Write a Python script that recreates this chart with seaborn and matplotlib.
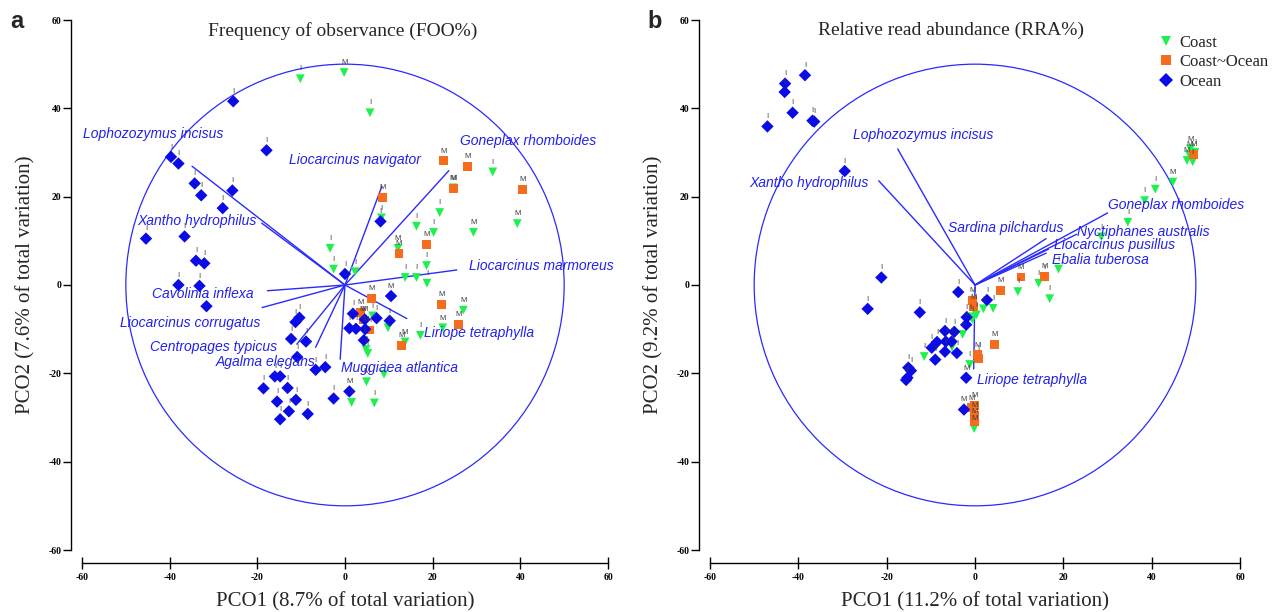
import pandas as pd
import matplotlib
matplotlib.use('Agg')
import matplotlib.pyplot as plt
import seaborn as sns
from matplotlib.patches import Circle

groups = ['Coast', 'Coast~Ocean', 'Ocean']
palette = {'Coast': '#1ef04e', 'Coast~Ocean': '#f46c1c', 'Ocean': '#0b0be6'}
markers = {'Coast': 'v', 'Coast~Ocean': 's', 'Ocean': 'D'}

# ---- panel a: frequency of observance ----
foo_coast_x = [-10.2, -0.2, 5.7, 33.7, 39.3, 29.3, 21.6, 16.3, 20.2, 12.1, 18.6, 13.7, 16.3, 18.7,
               -3.4, -2.6, 2.3, 8.3, 24.6, 6.3, 27.0, 22.3, 17.2, 13.7, 9.8, 4.8, 5.2, 4.9, 8.9, 1.5, 6.7]
foo_coast_y = [46.7, 48.1, 39.0, 25.6, 13.9, 11.9, 16.4, 13.3, 11.9, 8.3, 4.4, 1.7, 1.7, 0.4,
               8.3, 3.6, 3.0, 15.2, 22.0, -7.0, -5.7, -9.7, -11.4, -12.9, -9.7, -14.6, -15.5, -21.9, -20.2, -26.6, -26.7]
foo_coast_site = ['I', 'M', 'I', 'I', 'M', 'M', 'I', 'I', 'I', 'M', 'I', 'I', 'I', 'I',
                  'I', 'I', 'I', 'I', 'M', 'I', 'M', 'M', 'I', 'M', 'I', 'I', 'I', 'M', 'I', 'I', 'I']

foo_mixed_x = [22.5, 28.0, 24.8, 40.5, 8.5, 18.6, 12.3, 6.1, 22.1, 25.9, 12.9, 4.1, 5.7, 3.6]
foo_mixed_y = [28.1, 26.9, 21.8, 21.6, 19.8, 9.2, 7.2, -3.1, -4.4, -9.0, -13.7, -7.8, -10.2, -6.2]
foo_mixed_site = ['M', 'M', 'M', 'M', 'M', 'M', 'M', 'M', 'M', 'M', 'M', 'M', 'I', 'M']

foo_ocean_x = [-25.5, -17.9, -39.7, -38.0, -34.3, -32.8, -25.7, -27.9, -45.4, -36.6, -34.0, -32.1, -38.0, -33.2,
               -31.6, 8.1, 0.0, 10.5, 1.8, 4.5, 7.2, 10.2, 1.0, 2.5, 4.6, 4.3, -10.4, -11.3, -12.3, -8.9,
               -10.9, -6.7, -4.5, -16.0, -14.8, -18.6, -13.1, -11.2, -15.5, -2.6, 1.0, -12.8, -8.5, -14.8]
foo_ocean_y = [41.6, 30.5, 29.0, 27.5, 23.0, 20.3, 21.4, 17.4, 10.5, 11.0, 5.5, 4.9, 0.0, -0.2,
               -4.8, 14.4, 2.5, -2.5, -6.5, -7.8, -7.5, -8.1, -9.8, -9.9, -10.0, -12.5, -7.4, -8.4, -12.2, -12.8,
               -16.3, -19.2, -18.6, -20.7, -20.7, -23.4, -23.3, -26.0, -26.4, -25.7, -24.1, -28.6, -29.2, -30.4]
foo_ocean_site = ['I'] * 17 + ['M', 'I', 'M', 'I', 'I', 'I', 'I', 'M'] + ['I'] * 15 + ['M', 'I', 'I', 'I']

foo_species = ['Lophozozymus incisus', 'Xantho hydrophilus', 'Liocarcinus navigator', 'Goneplax rhomboides',
               'Liocarcinus marmoreus', 'Cavolinia inflexa', 'Liocarcinus corrugatus', 'Centropages typicus',
               'Agalma elegans', 'Muggiaea atlantica', 'Liriope tetraphylla']
foo_vec_x = [-34.9, -19.0, 8.4, 23.7, 25.5, -17.7, -18.9, -11.0, -6.7, -1.1, 14.1]
foo_vec_y = [26.9, 14.0, 22.3, 25.9, 3.4, -1.3, -5.1, -13.4, -14.1, -16.8, -7.6]
foo_lab_x = [-59.7, -47.5, -12.7, 26.3, 28.4, -44.0, -51.3, -44.4, -29.5, -0.8, 18.1]
foo_lab_y = [34.2, 14.5, 28.3, 32.7, 4.2, -2.0, -8.6, -14.0, -17.4, -18.7, -10.9]

# ---- panel b: relative read abundance ----
rra_coast_x = [48.0, 49.3, 48.5, 49.8, 48.8, 44.8, 40.8, 38.4, 34.6, 28.6, 18.9, 15.7, 14.4, 16.9,
               9.7, 4.1, 1.9, 0.3, -1.1, -0.6, -2.8, -5.2, -11.5, -1.2, -0.2]
rra_coast_y = [28.2, 27.9, 29.5, 30.0, 30.8, 23.3, 21.7, 19.1, 14.2, 10.9, 3.6, 1.7, 0.4, -3.1,
               -1.5, -5.3, -5.4, -6.8, -7.2, -7.8, -11.2, -14.1, -16.2, -18.0, -32.5]
rra_coast_site = ['M', 'I', 'M', 'I', 'M', 'M', 'I', 'I', 'I', 'I', 'I', 'I', 'I', 'I',
                  'I', 'I', 'I', 'I', 'I', 'I', 'I', 'I', 'I', 'I', 'M']

rra_mixed_x = [10.4, 5.8, 15.7, 49.4, 4.4, 0.6, 0.8, -0.8, -0.2, -0.1, -0.2, -0.5, -0.3]
rra_mixed_y = [1.8, -1.2, 2.0, 29.6, -13.4, -15.8, -16.6, -27.8, -27.2, -30.9, -29.6, -3.5, -5.0]
rra_mixed_site = ['M', 'M', 'M', 'M', 'M', 'M', 'I', 'M', 'M', 'M', 'M', 'M', 'M']

rra_ocean_x = [-47.0, -43.0, -43.1, -38.5, -41.3, -36.4, -36.8, -29.5, -21.2, -24.3, -12.5, -3.8, 2.7, -1.9,
               -2.0, -6.8, -4.7, -8.6, -6.6, -5.3, -9.8, -6.8, -4.1, -9.0, -15.1, -14.5, -15.6, -15.3, -2.0, -2.5]
rra_ocean_y = [35.9, 45.6, 43.7, 47.5, 39.0, 37.0, 37.2, 25.8, 1.7, -5.4, -6.2, -1.6, -3.4, -7.3,
               -9.0, -10.4, -10.6, -12.9, -12.8, -12.8, -14.2, -15.1, -15.4, -16.9, -18.7, -19.4, -21.5, -21.0, -21.0, -28.2]
rra_ocean_site = ['I'] * 28 + ['M', 'M']

rra_species = ['Lophozozymus incisus', 'Xantho hydrophilus', 'Sardina pilchardus', 'Goneplax rhomboides',
               'Nyctiphanes australis', 'Liocarcinus pusillus', 'Ebalia tuberosa', 'Liriope tetraphylla']
rra_vec_x = [-17.5, -21.8, 16.1, 30.0, 23.0, 16.6, 16.1, -0.3]
rra_vec_y = [30.8, 23.6, 10.5, 16.3, 11.5, 8.1, 7.2, -19.0]
rra_lab_x = [-27.7, -51.0, -6.1, 30.0, 23.2, 17.9, 17.5, 0.4]
rra_lab_y = [34.0, 23.0, 13.0, 18.2, 12.1, 9.0, 5.7, -21.4]


def make_df(cx, cy, cs, mx, my, ms, ox, oy, os_):
    parts = []
    for g, x, y, s in zip(groups, [cx, mx, ox], [cy, my, oy], [cs, ms, os_]):
        parts.append(pd.DataFrame({'PCO1': x, 'PCO2': y, 'site': s, 'group': g}))
    return pd.concat(parts, ignore_index=True)


foo = make_df(foo_coast_x, foo_coast_y, foo_coast_site, foo_mixed_x, foo_mixed_y, foo_mixed_site,
              foo_ocean_x, foo_ocean_y, foo_ocean_site)
rra = make_df(rra_coast_x, rra_coast_y, rra_coast_site, rra_mixed_x, rra_mixed_y, rra_mixed_site,
              rra_ocean_x, rra_ocean_y, rra_ocean_site)

sns.set_theme(style='ticks')
plt.rcParams['font.family'] = ['Liberation Serif', 'DejaVu Serif']
plt.rcParams['axes.unicode_minus'] = False

fig = plt.figure(figsize=(12.76, 6.12), dpi=100)
ax_a = fig.add_axes([82 / 1276, 62 / 612, 526 / 1276, 530 / 612])
ax_b = fig.add_axes([710 / 1276, 62 / 612, 530 / 1276, 530 / 612])

line_blue = '#2a2aff'
text_blue = '#2020f0'

panels = [
    (ax_a, foo, foo_species, foo_vec_x, foo_vec_y, foo_lab_x, foo_lab_y,
     'Frequency of observance (FOO%)', 0.496, 'PCO1 (8.7% of total variation)', 'PCO2 (7.6% of total variation)'),
    (ax_b, rra, rra_species, rra_vec_x, rra_vec_y, rra_lab_x, rra_lab_y,
     'Relative read abundance (RRA%)', 0.455, 'PCO1 (11.2% of total variation)', 'PCO2 (9.2% of total variation)'),
]

for i, (ax, df, names, vx, vy, lx, ly, title, tx, xl, yl) in enumerate(panels):
    ax.add_patch(Circle((0, 0), 50, fill=False, ec=line_blue, lw=0.9, zorder=1))
    for x, y in zip(vx, vy):
        ax.plot([0, x], [0, y], color=line_blue, lw=1.0, zorder=2)
    sns.scatterplot(data=df, x='PCO1', y='PCO2', hue='group', style='group', hue_order=groups,
                    style_order=groups, palette=palette, markers=markers, s=40, linewidth=0,
                    legend=(i == 1), ax=ax, zorder=3)
    for _, r in df.iterrows():
        ax.annotate(r['site'], (r['PCO1'], r['PCO2']), xytext=(0, 4.5), textcoords='offset points',
                    ha='center', va='bottom', fontsize=5.5, color='#3c3c3c',
                    family='Liberation Sans', zorder=4)
    for name, x, y in zip(names, lx, ly):
        ax.text(x, y, name, color=text_blue, fontsize=10, style='italic', family='Liberation Sans',
                ha='left', va='center', zorder=5)
    ax.set_xlim(-60, 60)
    ax.set_ylim(-60, 60)
    ax.set_xticks(range(-60, 61, 20))
    ax.set_yticks(range(-60, 61, 20))
    sns.despine(ax=ax, offset={'left': 8, 'bottom': 9})
    for sp in ['left', 'bottom']:
        ax.spines[sp].set_color('black')
        ax.spines[sp].set_linewidth(1.0)
    ax.tick_params(axis='x', direction='inout', length=9, width=1, pad=3, labelsize=7, colors='black')
    ax.tick_params(axis='y', direction='out', length=6, width=1, pad=1, labelsize=7, colors='black')
    for lab in ax.get_xticklabels() + ax.get_yticklabels():
        lab.set_fontweight('bold')
    ax.set_xlabel(xl, fontsize=15, labelpad=7)
    ax.set_ylabel(yl, fontsize=15, labelpad=9)
    ax.text(tx, 0.997, title, transform=ax.transAxes, ha='center', va='top', fontsize=14)
    ax.set_facecolor('white')

handles, labels = ax_b.get_legend_handles_labels()
ax_b.legend(handles, labels, loc='upper left', bbox_to_anchor=(0.848, 0.972), frameon=False,
            fontsize=12, handlelength=0.8, handletextpad=0.4, labelspacing=0.2,
            borderaxespad=0, borderpad=0, markerscale=1.1)

fig.text(10 / 1276, 1 - 28 / 612, 'a', fontsize=17, fontweight='bold', family='Liberation Sans')
fig.text(647 / 1276, 1 - 28 / 612, 'b', fontsize=17, fontweight='bold', family='Liberation Sans')

fig.savefig('out.png', dpi=100, facecolor='white')
